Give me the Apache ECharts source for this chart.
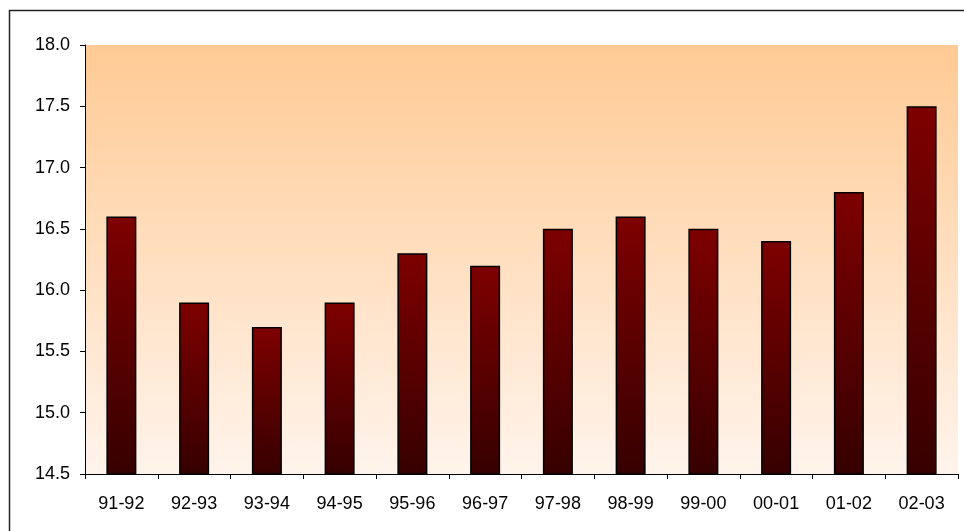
<!DOCTYPE html>
<html>
<head>
<meta charset="utf-8">
<script src="https://cdn.jsdelivr.net/npm/echarts@6/dist/echarts.min.js"></script>
<style>html,body{margin:0;padding:0;background:#fff;}#c{width:964px;height:531px;}</style>
</head>
<body>
<div id="c"></div>
<script>
const categories = ['91-92','92-93','93-94','94-95','95-96','96-97','97-98','98-99','99-00','00-01','01-02','02-03'];
const values = [16.6, 15.9, 15.7, 15.9, 16.3, 16.2, 16.5, 16.6, 16.5, 16.4, 16.8, 17.5];
const yMin = 14.5, yMax = 18.0, yStep = 0.5;

const chart = echarts.init(document.getElementById('c'), null, {renderer: 'canvas'});
const font = 'Liberation Sans, Arial, sans-serif';
chart.setOption({
  animation: false,
  backgroundColor: '#ffffff',
  graphic: [{
    type: 'rect', silent: true, z: -10,
    shape: {x: 9.5, y: 10.5, width: 1000, height: 1000},
    style: {fill: 'none', stroke: '#222', lineWidth: 1.5}
  }],
  grid: {
    left: 85, top: 45, right: 6, bottom: 57,
    show: true, borderWidth: 0,
    backgroundColor: new echarts.graphic.LinearGradient(0, 0, 0, 1, [
      {offset: 0, color: '#FFCA94'},
      {offset: 1, color: '#FFF4EC'}
    ])
  },
  xAxis: {
    type: 'category', data: categories, boundaryGap: true,
    axisLine: {show: true, lineStyle: {color: '#000', width: 1}},
    axisTick: {show: true, alignWithLabel: false, length: 5, lineStyle: {color: '#000'}},
    axisLabel: {color: '#000', fontFamily: font, fontSize: 18, margin: 21},
    splitLine: {show: false}
  },
  yAxis: {
    type: 'value', min: yMin, max: yMax, interval: yStep,
    axisLine: {show: true, lineStyle: {color: '#000', width: 1}},
    axisTick: {show: true, length: 5, lineStyle: {color: '#000'}},
    axisLabel: {color: '#000', fontFamily: font, fontSize: 18, margin: 15,
      formatter: v => v.toFixed(1)},
    splitLine: {show: false}
  },
  series: [{
    type: 'bar', data: values, barWidth: 30,
    itemStyle: {
      borderColor: '#000', borderWidth: 1.5,
      color: new echarts.graphic.LinearGradient(0, 0, 0, 1, [
        {offset: 0, color: '#7E0000'},
        {offset: 1, color: '#360000'}
      ], false)
    }
  }]
});
</script>
</body>
</html>
